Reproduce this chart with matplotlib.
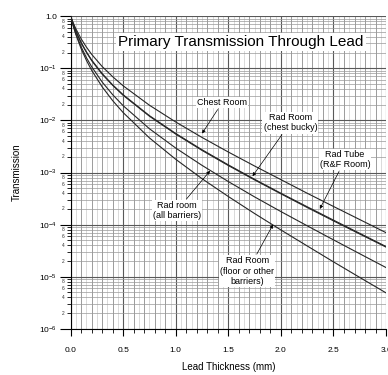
import matplotlib
matplotlib.use("Agg")
import matplotlib.pyplot as plt
from matplotlib.ticker import FixedLocator, NullFormatter

plt.rcParams['font.family'] = ['Liberation Sans', 'DejaVu Sans']
plt.rcParams['mathtext.default'] = 'regular'

# lead thickness (mm)
thickness = [0, 0.025, 0.05, 0.1, 0.15, 0.2, 0.3, 0.4, 0.5, 0.75, 1.0, 1.25,
             1.5, 1.75, 2.0, 2.25, 2.5, 2.75, 3.0]

chest_room = [1.0, 0.74, 0.57, 0.367, 0.255, 0.185, 0.108, 0.0688, 0.046,
              0.0195, 9.3e-3, 4.7e-3, 2.47e-3, 1.33e-3, 7.3e-4, 4.0e-4,
              2.23e-4, 1.25e-4, 7.0e-5]
chest_bucky = [1.0, 0.70, 0.52, 0.313, 0.206, 0.144, 0.079, 0.048, 0.031,
               0.0123, 5.6e-3, 2.73e-3, 1.40e-3, 7.4e-4, 4.0e-4, 2.2e-4,
               1.22e-4, 6.8e-5, 3.8e-5]
rf_room = [1.0, 0.70, 0.51, 0.305, 0.203, 0.14, 0.077, 0.047, 0.0302,
           0.0120, 5.45e-3, 2.65e-3, 1.36e-3, 7.2e-4, 3.9e-4, 2.13e-4,
           1.18e-4, 6.6e-5, 3.7e-5]
all_barriers = [1.0, 0.659, 0.463, 0.258, 0.160, 0.107, 0.0544, 0.0311,
                0.0191, 6.9e-3, 2.94e-3, 1.37e-3, 6.7e-4, 3.4e-4, 1.78e-4,
                9.5e-5, 5.1e-5, 2.76e-5, 1.5e-5]
floor_barriers = [1.0, 0.644, 0.442, 0.237, 0.142, 0.0914, 0.044, 0.0239,
                  0.0141, 4.6e-3, 1.79e-3, 7.6e-4, 3.46e-4, 1.63e-4, 7.9e-5,
                  3.9e-5, 1.93e-5, 9.7e-6, 4.9e-6]

y_decades = [1e-6, 1e-5, 1e-4, 1e-3, 1e-2, 1e-1, 1.0]
y_decade_labels = ['10$^{-6}$', '10$^{-5}$', '10$^{-4}$', '10$^{-3}$',
                   '10$^{-2}$', '10$^{-1}$', '1.0']
x_major = [0.0, 0.5, 1.0, 1.5, 2.0, 2.5, 3.0]
x_labels = ['0.0', '0.5', '1.0', '1.5', '2.0', '2.5', '3.0']

fig = plt.figure(figsize=(3.88, 3.75), dpi=100)
ax = fig.add_axes([0.182, 0.123, 0.813, 0.834])
ax.set_yscale('log')
ax.set_xlim(0, 3.0)
ax.set_ylim(1e-6, 1.0)

minor_y = [m * d for d in y_decades[:-1] for m in range(2, 10)]
ax.yaxis.set_major_locator(FixedLocator(y_decades))
ax.yaxis.set_minor_locator(FixedLocator(minor_y))
ax.set_yticklabels(y_decade_labels)
ax.yaxis.set_minor_formatter(NullFormatter())
ax.set_xticks(x_major)
ax.set_xticklabels(x_labels)
ax.xaxis.set_minor_locator(FixedLocator([i / 10 for i in range(31)]))

# grid
for i in range(61):
    xv = i * 0.05
    if i % 10 == 0:
        c, w = '0.35', 0.8
    elif i % 2 == 0:
        c, w = '0.55', 0.6
    else:
        c, w = '0.8', 0.5
    ax.axvline(xv, color=c, lw=w, zorder=0)
for yv in minor_y:
    ax.axhline(yv, color='0.6', lw=0.5, zorder=0)
for yv in y_decades:
    ax.axhline(yv, color='0.35', lw=0.8, zorder=0)

# small minor labels 2,4,6,8
for d in y_decades[:-1]:
    for m in (2, 4, 6, 8):
        ax.text(-0.02, m * d, str(m), fontsize=3.5, ha='right', va='center',
                transform=ax.get_yaxis_transform(), color='0.2')

ax.tick_params(axis='y', which='major', direction='out', length=8,
               width=0.8, labelsize=6, pad=2)
ax.tick_params(axis='y', which='minor', direction='out', length=3, width=0.6)
ax.tick_params(axis='x', which='major', direction='out', length=5,
               width=0.8, labelsize=6, pad=8)
ax.tick_params(axis='x', which='minor', direction='out', length=3, width=0.6)
ax.spines['top'].set_visible(False)
ax.spines['right'].set_visible(False)

for series in (chest_room, chest_bucky, rf_room, all_barriers, floor_barriers):
    ax.plot(thickness, series, color='0.15', lw=0.8, zorder=3)

ax.text(0.54, 0.917, 'Primary Transmission Through Lead', transform=ax.transAxes,
        fontsize=11, ha='center', va='center', zorder=5,
        bbox=dict(facecolor='white', edgecolor='none', pad=1.5))

arrow = dict(arrowstyle='-|>', lw=0.5, color='k', mutation_scale=5,
             shrinkA=1, shrinkB=0)
box = dict(facecolor='white', edgecolor='none', pad=0.8)
fs = 6.5
ax.annotate('Chest Room', xy=(1.25, 5.6e-3), xytext=(1.44, 0.0217),
            fontsize=fs, ha='center', va='center', bbox=box,
            arrowprops=arrow, zorder=6)
ax.annotate('Rad Room\n(chest bucky)', xy=(1.73, 8.5e-4), xytext=(2.09, 9.0e-3),
            fontsize=fs, ha='center', va='center', bbox=box,
            arrowprops=arrow, zorder=6)
ax.annotate('Rad Tube\n(R&F Room)', xy=(2.37, 2.0e-4), xytext=(2.61, 1.77e-3),
            fontsize=fs, ha='center', va='center', bbox=box,
            arrowprops=arrow, zorder=6)
ax.annotate('Rad room\n(all barriers)', xy=(1.326, 1.08e-3), xytext=(1.01, 1.86e-4),
            fontsize=fs, ha='center', va='center', bbox=box,
            arrowprops=arrow, zorder=6)
ax.annotate('Rad Room\n(floor or other\nbarriers)', xy=(1.925, 1.0e-4),
            xytext=(1.68, 1.27e-5), fontsize=fs, ha='center', va='center',
            bbox=box, arrowprops=arrow, zorder=6)

ax.set_xlabel('Lead Thickness (mm)', fontsize=7, labelpad=6)
ax.set_ylabel('Transmission', fontsize=7, labelpad=12)

fig.savefig('out.png', dpi=100)
